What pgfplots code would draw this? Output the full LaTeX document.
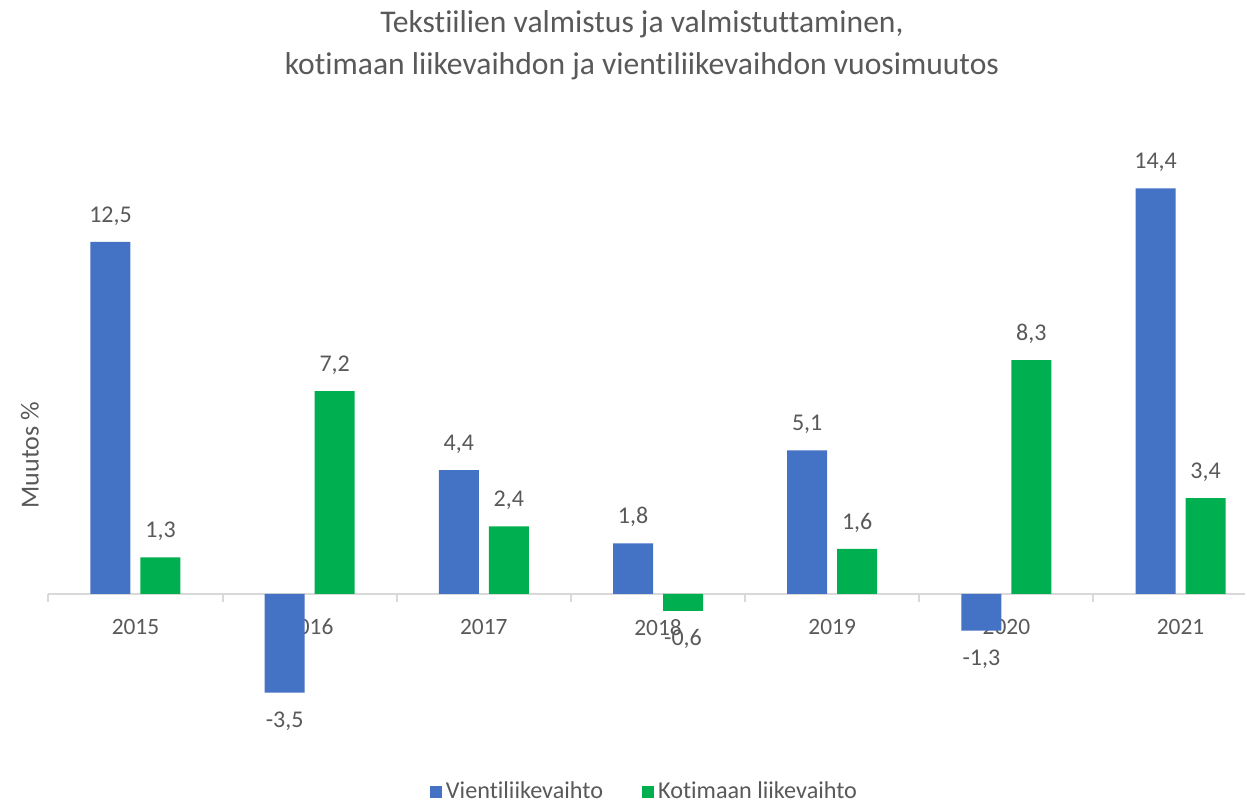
\documentclass[border=0pt]{standalone}
\usepackage{pgfplots}
\pgfplotsset{compat=1.18}
\usepackage{fontspec}
\setmainfont{Carlito}[Ligatures={NoCommon}]
\definecolor{blueb}{HTML}{4472C4}
\definecolor{greenb}{HTML}{00B050}
\definecolor{txt}{HTML}{595959}
\definecolor{axg}{HTML}{D9D9D9}
\begin{document}
\begin{tikzpicture}
\path[use as bounding box] (0,0) rectangle (623.5pt,401pt);
\begin{axis}[
  at={(24.2pt,40.65pt)}, anchor=south west,
  scale only axis, width=598.3pt, height=288.65pt,
  clip=false,
  ybar=5pt, bar width=20pt,
  xmin=-0.5, xmax=6.37, ymin=-4.5, ymax=16,
  axis x line*=middle, axis y line*=left,
  y axis line style={draw=none},
  x axis line style={draw=axg, line width=1pt},
  ytick=\empty,
  xtick={0,1,2,3,4,5,6},
  xticklabels={2015,2016,2017,2018,2019,2020,2021},
  major x tick style={draw=none},
  major tick length=0pt,
  extra x ticks={-0.5,0.5,1.5,2.5,3.5,4.5,5.5},
  extra x tick labels={},
  extra x tick style={major tick length=4pt, tick align=outside, major x tick style={draw=axg, line width=1pt}},
  xticklabel style={font=\fontsize{11.7}{14}\selectfont, text=txt, yshift=-9pt},
  nodes near coords,
  nodes near coords style={font=\fontsize{12}{14}\selectfont, text=txt, text height=7.6pt, text depth=0pt, inner ysep=9.6pt},
  /pgf/number format/.cd, use comma, fixed, fixed zerofill, precision=1, assume math mode=true, /pgfplots/.cd,
  title={Tekstiilien valmistus ja valmistuttaminen,\\kotimaan liikevaihdon ja vientiliikevaihdon vuosimuutos},
  title style={at={(0.496,1.150)}, anchor=center, align=center, font=\fontsize{15.8}{21}\selectfont, text=txt},
  ylabel={Muutos \%},
  ylabel style={at={(-0.0154,0.460)}, anchor=center, font=\fontsize{13}{15}\selectfont, text=txt},
  legend columns=2,
  legend style={at={(0.499,-0.1235)}, anchor=center, draw=none, font=\fontsize{12.1}{14}\selectfont, text=txt,
    /tikz/every even column/.append style={column sep=17.5pt}},
  legend image code/.code={\draw[#1,draw=none] (0pt,-3pt) rectangle (6pt,3pt);},
]
\addplot[fill=blueb, draw=none] coordinates {(0,12.5) (1,-3.5) (2,4.4) (3,1.8) (4,5.1) (5,-1.3) (6,14.4)};
\addplot[fill=greenb, draw=none] coordinates {(0,1.3) (1,7.2) (2,2.4) (3,-0.6) (4,1.6) (5,8.3) (6,3.4)};
\legend{Vientiliikevaihto, Kotimaan liikevaihto}
\end{axis}
\end{tikzpicture}
\end{document}
